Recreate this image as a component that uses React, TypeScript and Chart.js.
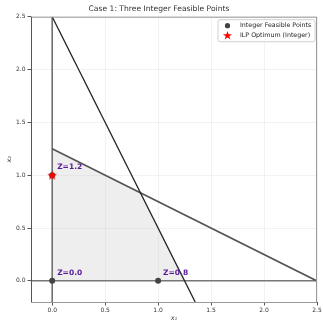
import React, { useEffect, useRef } from "react";
import { Chart, registerables } from "chart.js";

Chart.register(...registerables);

const titleText = "Case 1: Three Integer Feasible Points";
const xTicks = [0, 0.5, 1.0, 1.5, 2.0, 2.5];
const yTicks = [0, 0.5, 1.0, 1.5, 2.0, 2.5];
const axisMin = -0.2;
const axisMax = 2.5;

const feasibleX = [0, 1.25, 0.8333, 0, 0];
const feasibleY = [0, 0, 0.8333, 1.25, 0];
const c1X = [0, 1.35];
const c1Y = [2.5, -0.2];
const c2X = [0, 2.5];
const c2Y = [1.25, 0];
const vAxisX = [0, 0];
const vAxisY = [-0.2, 2.5];
const hAxisX = [-0.2, 2.5];
const hAxisY = [0, 0];
const intX = [0, 1, 0];
const intY = [0, 0, 1];
const zLabels = ["Z=0.0", "Z=0.8", "Z=1.2"];
const optX = [0];
const optY = [1];
const legendLabels = ["Integer Feasible Points", "ILP Optimum (Integer)"];

const zip = (xs: number[], ys: number[]) => xs.map((x, i) => ({ x, y: ys[i] }));

function drawStar(ctx: CanvasRenderingContext2D, cx: number, cy: number, R: number, r: number) {
  ctx.beginPath();
  for (let i = 0; i < 10; i++) {
    const ang = -Math.PI / 2 + (i * Math.PI) / 5;
    const rad = i % 2 === 0 ? R : r;
    const px = cx + rad * Math.cos(ang);
    const py = cy + rad * Math.sin(ang);
    if (i === 0) ctx.moveTo(px, py);
    else ctx.lineTo(px, py);
  }
  ctx.closePath();
  ctx.fillStyle = "#ff0000";
  ctx.fill();
}

function makeStarCanvas() {
  const c = document.createElement("canvas");
  c.width = 12;
  c.height = 12;
  const ctx = c.getContext("2d")!;
  drawStar(ctx, 6, 6.4, 5.2, 2.1);
  return c;
}

export default function App() {
  const ref = useRef<HTMLCanvasElement | null>(null);
  useEffect(() => {
    if (!ref.current) return;
    const star = makeStarCanvas();
    const labelPlugin = {
      id: "zlabels",
      afterDatasetsDraw(chart: any) {
        const { ctx, scales } = chart;
        ctx.save();
        ctx.font = "bold 7.5px 'DejaVu Sans'";
        ctx.fillStyle = "#5a1a96";
        ctx.textBaseline = "middle";
        ctx.textAlign = "left";
        intX.forEach((x, i) => {
          const px = scales.x.getPixelForValue(x);
          const py = scales.y.getPixelForValue(intY[i]);
          ctx.fillText(zLabels[i], px + 5, py - 8);
        });
        ctx.restore();
      },
    };
    const framePlugin = {
      id: "frame",
      afterDraw(chart: any) {
        const { ctx, chartArea: a } = chart;
        ctx.save();
        ctx.lineWidth = 1;
        ctx.strokeStyle = "#999";
        ctx.strokeRect(a.left + 0.5, a.top + 0.5, a.right - a.left - 1, a.bottom - a.top);
        ctx.strokeStyle = "#555";
        ctx.beginPath();
        ctx.moveTo(a.left + 0.5, a.top);
        ctx.lineTo(a.left + 0.5, a.bottom);
        ctx.stroke();
        // legend
        const bx = a.right - 99, by = a.top + 3, bw = 97, bh = 22;
        ctx.beginPath();
        const r = 2;
        ctx.moveTo(bx + r, by);
        ctx.lineTo(bx + bw - r, by);
        ctx.quadraticCurveTo(bx + bw, by, bx + bw, by + r);
        ctx.lineTo(bx + bw, by + bh - r);
        ctx.quadraticCurveTo(bx + bw, by + bh, bx + bw - r, by + bh);
        ctx.lineTo(bx + r, by + bh);
        ctx.quadraticCurveTo(bx, by + bh, bx, by + bh - r);
        ctx.lineTo(bx, by + r);
        ctx.quadraticCurveTo(bx, by, bx + r, by);
        ctx.closePath();
        ctx.fillStyle = "rgba(255,255,255,0.85)";
        ctx.fill();
        ctx.strokeStyle = "#d0d0d0";
        ctx.stroke();
        ctx.fillStyle = "#444";
        ctx.beginPath();
        ctx.arc(bx + 9.5, by + 6, 2.6, 0, Math.PI * 2);
        ctx.fill();
        drawStar(ctx, bx + 9.5, by + 16, 4.8, 1.9);
        ctx.fillStyle = "#222";
        ctx.font = "6.3px 'DejaVu Sans'";
        ctx.textBaseline = "middle";
        ctx.textAlign = "left";
        ctx.fillText(legendLabels[0], bx + 22, by + 6);
        ctx.fillText(legendLabels[1], bx + 22, by + 16);
        ctx.restore();
      },
    };
    const chart = new Chart(ref.current, {
      type: "scatter",
      data: {
        datasets: [
          {
            label: "Feasible",
            data: zip(feasibleX, feasibleY),
            showLine: true,
            borderWidth: 0,
            pointRadius: 0,
            fill: "shape",
            backgroundColor: "rgba(200,200,200,0.3)",
            borderColor: "rgba(0,0,0,0)",
            order: 10,
          } as any,
          {
            label: "x=0",
            data: zip(vAxisX, vAxisY),
            showLine: true,
            borderColor: "#666",
            borderWidth: 1.5,
            pointRadius: 0,
            order: 9,
          },
          {
            label: "y=0",
            data: zip(hAxisX, hAxisY),
            showLine: true,
            borderColor: "#777",
            borderWidth: 1.5,
            pointRadius: 0,
            order: 9,
          },
          {
            label: "c1",
            data: zip(c1X, c1Y),
            showLine: true,
            borderColor: "#222",
            borderWidth: 1.3,
            pointRadius: 0,
            order: 8,
          },
          {
            label: "c2",
            data: zip(c2X, c2Y),
            showLine: true,
            borderColor: "#555",
            borderWidth: 1.7,
            pointRadius: 0,
            order: 8,
          },
          {
            label: legendLabels[0],
            data: zip(intX, intY),
            showLine: false,
            pointRadius: 3,
            pointBackgroundColor: "#444",
            pointBorderWidth: 0,
            borderColor: "#444",
            order: 2,
          },
          {
            label: legendLabels[1],
            data: zip(optX, optY),
            showLine: false,
            pointStyle: star as any,
            pointRadius: 5,
            order: 1,
          },
        ],
      },
      options: {
        animation: false,
        responsive: false,
        layout: { padding: { left: 0, right: 5, top: 2.6, bottom: 0 } },
        plugins: {
          legend: { display: false },
          tooltip: { enabled: false },
          title: {
            display: true,
            text: titleText,
            color: "#333",
            font: { family: "'DejaVu Sans'", size: 7.6, weight: "normal" as any },
            padding: { top: 2, bottom: 3 },
          },
        },
        scales: {
          x: {
            type: "linear",
            min: axisMin,
            max: axisMax,
            afterBuildTicks: (s: any) => {
              s.ticks = xTicks.map((v) => ({ value: v }));
            },
            afterFit: (s: any) => {
              s.height = 20;
            },
            ticks: {
              color: "#333",
              font: { family: "'DejaVu Sans'", size: 6 },
              padding: 1,
              maxRotation: 0,
              callback: (v: any) => Number(v).toFixed(1),
            },
            grid: { color: "rgba(0,0,0,0.05)", tickColor: "#555", tickLength: 3.5 },
            border: { display: false },
            title: {
              display: true,
              text: "x₁",
              color: "#333",
              font: { family: "'DejaVu Sans'", size: 6.5, style: "italic" },
              padding: { top: 0, bottom: 0 },
            },
          },
          y: {
            type: "linear",
            min: axisMin,
            max: axisMax,
            afterBuildTicks: (s: any) => {
              s.ticks = yTicks.map((v) => ({ value: v }));
            },
            afterFit: (s: any) => {
              s.width = 31;
            },
            ticks: {
              color: "#333",
              font: { family: "'DejaVu Sans'", size: 6 },
              padding: 2,
              callback: (v: any) => Number(v).toFixed(1),
            },
            grid: { color: "rgba(0,0,0,0.05)", tickColor: "#555", tickLength: 3.5 },
            border: { display: false },
            title: {
              display: true,
              text: "x₂",
              color: "#333",
              font: { family: "'DejaVu Sans'", size: 6.5, style: "italic" },
              padding: { top: 5, bottom: 0 },
            },
          },
        },
      },
      plugins: [labelPlugin, framePlugin],
    });
    return () => chart.destroy();
  }, []);
  return (
    <div style={{ position: "fixed", left: 0, top: 0, width: 323, height: 322, background: "#fff" }}>
      <canvas ref={ref} width={323} height={322} />
    </div>
  );
}
